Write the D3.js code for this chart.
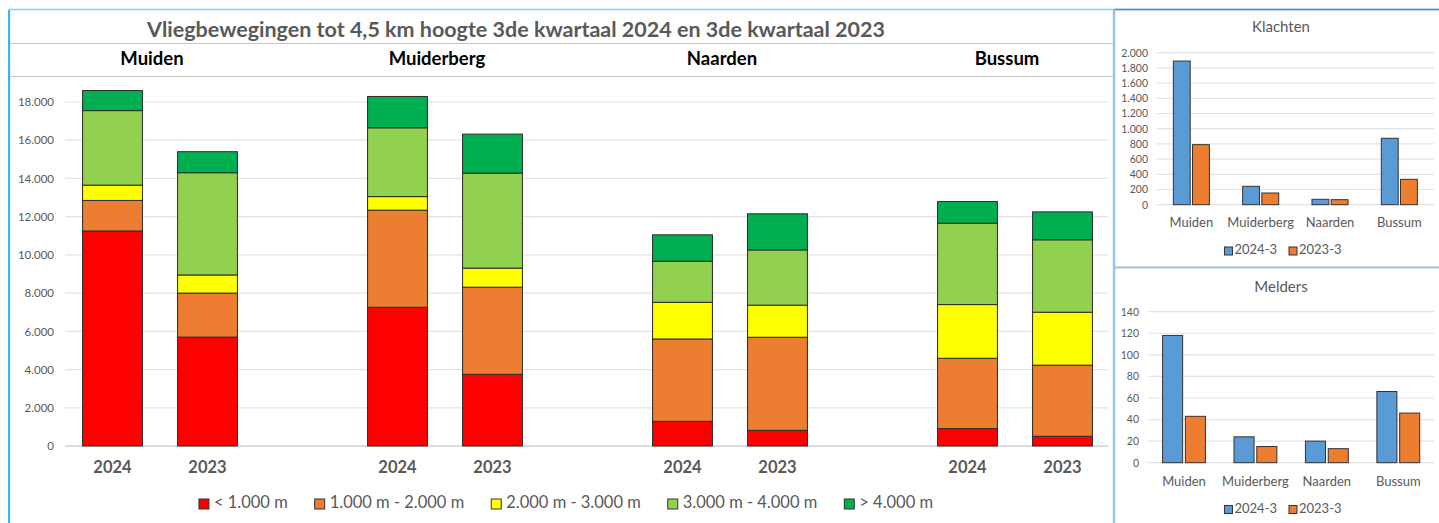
<!DOCTYPE html>
<html>
<head>
<meta charset="utf-8">
<script src="https://cdn.jsdelivr.net/npm/d3@7"></script>
<style>
  body { margin: 0; background: #fff; }
  text { font-family: Lato, "Open Sans", sans-serif; }
</style>
</head>
<body>
<div id="chart"></div>
<script>
// places and years
var places = ["Muiden", "Muiderberg", "Naarden", "Bussum"]
var years = ["2024", "2023"]

// flights per height band, order: Muiden 2024, Muiden 2023, Muiderberg 2024, ...
var heightBands = ["< 1.000 m", "1.000 m - 2.000 m", "2.000 m - 3.000 m", "3.000 m - 4.000 m", "> 4.000 m"]
var below1000 = [11250, 5700, 7260, 3750, 1290, 820, 910, 510]
var from1000to2000 = [1600, 2300, 5080, 4560, 4310, 4870, 3680, 3720]
var from2000to3000 = [800, 950, 710, 1000, 1920, 1680, 2810, 2770]
var from3000to4000 = [3900, 5350, 3600, 4970, 2150, 2890, 4260, 3790]
var above4000 = [1050, 1100, 1640, 2040, 1380, 1890, 1130, 1460]
var bandColors = ["#FF0000", "#ED7D31", "#FFFF00", "#92D050", "#00B050"]
var mainTicks = [0, 2000, 4000, 6000, 8000, 10000, 12000, 14000, 16000, 18000]

// complaints and reporters
var smallSeries = ["2024-3", "2023-3"]
var klachten2024 = [1890, 242, 71, 874]
var klachten2023 = [790, 154, 66, 334]
var klachtenTicks = [0, 200, 400, 600, 800, 1000, 1200, 1400, 1600, 1800, 2000]
var melders2024 = [118, 24, 20, 66]
var melders2023 = [43, 15, 13, 46]
var meldersTicks = [0, 20, 40, 60, 80, 100, 120, 140]
var smallColors = ["#5B9BD5", "#ED7D31"]

var grey = "#595959"
var fmt = d3.formatLocale({decimal: ",", thousands: ".", grouping: [3], currency: ["", ""]}).format(",d")

var svg = d3.select("#chart").append("svg")
  .attr("width", 1439)
  .attr("height", 523)

// ---------- main stacked chart ----------
svg.append("rect")
  .attr("x", 9.5).attr("y", 9.5).attr("width", 1104).attr("height", 520)
  .attr("fill", "#fff").attr("stroke", "#7FD2F4").attr("stroke-width", 1.5)
svg.append("line").attr("x1", 9).attr("x2", 9).attr("y1", 10).attr("y2", 523)
  .attr("stroke", "#3BB5EC").attr("stroke-width", 2)

svg.append("text")
  .attr("x", 516).attr("y", 31)
  .attr("text-anchor", "middle").attr("dominant-baseline", "middle")
  .style("font-size", "21.5px").style("font-weight", "bold").style("fill", grey)
  .text("Vliegbewegingen tot 4,5 km hoogte 3de kwartaal 2024 en 3de kwartaal 2023")

svg.selectAll("sepline")
  .data([43.5, 76.5])
  .enter()
  .append("line")
    .attr("x1", 10).attr("x2", 1113)
    .attr("y1", function(d){ return d }).attr("y2", function(d){ return d })
    .attr("stroke", "#C8C8C8")

var slots = []
places.forEach(function(p, i){
  years.forEach(function(y){ slots.push(p + "|" + y) })
  if (i < places.length - 1) slots.push(p + "|gap")
})

var x = d3.scaleBand()
  .domain(slots)
  .range([65, 1110])
  .paddingInner(0.37)
  .paddingOuter(0.185)

var y = d3.scaleLinear()
  .domain([0, 18000])
  .range([446, 102])

// gridlines
svg.selectAll("grid")
  .data(mainTicks)
  .enter()
  .append("line")
    .attr("x1", 65).attr("x2", 1108)
    .attr("y1", function(d){ return y(d) }).attr("y2", function(d){ return y(d) })
    .attr("stroke", function(d){ return d == 0 ? "#D0D0D0" : "#E3E3E3" })
    .attr("stroke-width", function(d){ return d == 0 ? 1.5 : 1.2 })

var yAxis = svg.append("g")
  .attr("transform", "translate(57,0)")
  .call(d3.axisLeft(y).tickValues(mainTicks).tickFormat(fmt).tickSize(0).tickPadding(3))
yAxis.select(".domain").remove()
yAxis.selectAll("text")
  .style("font-family", "Lato, sans-serif").style("font-size", "11.5px").style("fill", grey)

var series = [below1000, from1000to2000, from2000to3000, from3000to4000, above4000]
var rows = []
places.forEach(function(p, i){
  years.forEach(function(yr, j){
    var k = i * years.length + j
    rows.push({slot: p + "|" + yr, year: yr, values: series.map(function(s){ return s[k] })})
  })
})

var stacked = d3.stack()
  .keys(d3.range(series.length))
  .value(function(d, key){ return d.values[key] })
  (rows)

svg.selectAll("layers")
  .data(stacked)
  .enter()
  .append("g")
    .attr("fill", function(d){ return bandColors[d.key] })
  .selectAll("rect")
  .data(function(d){ return d })
  .enter()
  .append("rect")
    .attr("x", function(d){ return x(d.data.slot) })
    .attr("width", x.bandwidth())
    .attr("y", function(d){ return y(d[1]) })
    .attr("height", function(d){ return y(d[0]) - y(d[1]) })
    .attr("stroke", "#2b2b2b")
    .attr("stroke-width", 1)

// year labels under bars
svg.selectAll("yearlabels")
  .data(rows)
  .enter()
  .append("text")
    .attr("x", function(d){ return x(d.slot) + x.bandwidth() / 2 })
    .attr("y", 469)
    .attr("text-anchor", "middle").attr("dominant-baseline", "middle")
    .style("font-size", "16.5px").style("font-weight", "bold").style("fill", grey)
    .text(function(d){ return d.year })

// place headers
svg.selectAll("placelabels")
  .data(places)
  .enter()
  .append("text")
    .attr("x", function(d){
      var a = x(d + "|" + years[0]), b = x(d + "|" + years[1])
      return (a + b + x.bandwidth()) / 2 - 8
    })
    .attr("y", 60)
    .attr("text-anchor", "middle").attr("dominant-baseline", "middle")
    .style("font-size", "18.5px").style("font-weight", "bold").style("fill", "#000")
    .text(function(d){ return d })

// legend, laid out from text widths and centred on the chart
function legend(parent, labels, colors, cx, cy, fontSize, box, gap, spacing){
  var g = parent.append("g")
  var items = g.selectAll("item")
    .data(labels)
    .enter()
    .append("g")
  items.append("rect")
    .attr("width", box).attr("height", box)
    .attr("y", cy - box / 2)
    .attr("fill", function(d, i){ return colors[i] })
    .attr("stroke", "#333").attr("stroke-width", 1)
  items.append("text")
    .attr("x", box + gap)
    .attr("y", cy)
    .attr("dominant-baseline", "middle")
    .style("font-size", fontSize + "px").style("fill", grey)
    .text(function(d){ return d })
  var widths = []
  items.each(function(){ widths.push(box + gap + d3.select(this).select("text").node().getComputedTextLength()) })
  var total = d3.sum(widths) + spacing * (widths.length - 1)
  var pos = cx - total / 2
  items.each(function(d, i){
    d3.select(this).attr("transform", "translate(" + pos + ",0)")
    pos += widths[i] + spacing
  })
}

legend(svg, heightBands, bandColors, 566, 504, 16.5, 10, 5, 27)

// ---------- small grouped charts ----------
function smallChart(opts){
  svg.append("rect")
    .attr("x", 1114.5).attr("y", opts.top + 0.5).attr("width", 333).attr("height", opts.height)
    .attr("fill", "#fff").attr("stroke", "#9CC2E5").attr("stroke-width", 1.5)
  svg.append("line")
    .attr("x1", 1114.5).attr("x2", 1439).attr("y1", opts.top + 0.5).attr("y2", opts.top + 0.5)
    .attr("stroke", opts.topColor).attr("stroke-width", 1.5)

  svg.append("text")
    .attr("x", 1281).attr("y", opts.titleY)
    .attr("text-anchor", "middle").attr("dominant-baseline", "middle")
    .style("font-size", "15px").style("fill", grey)
    .text(opts.title)

  var sy = d3.scaleLinear().domain([0, d3.max(opts.ticks)]).range(opts.yRange)
  var sx = d3.scaleBand().domain(places).range(opts.xRange)
  var sx1 = d3.scaleBand().domain(smallSeries)
    .range([sx.bandwidth() * opts.inner, sx.bandwidth() * (1 - opts.inner)])
    .paddingInner(0.12)

  svg.append("g").selectAll("line")
    .data(opts.ticks)
    .enter()
    .append("line")
      .attr("x1", opts.xRange[0]).attr("x2", opts.xRange[1])
      .attr("y1", function(d){ return sy(d) }).attr("y2", function(d){ return sy(d) })
      .attr("stroke", "#E3E3E3").attr("stroke-width", 1.2)

  var ax = svg.append("g")
    .attr("transform", "translate(" + opts.axisX + ",0)")
    .call(d3.axisLeft(sy).tickValues(opts.ticks).tickFormat(fmt).tickSize(0).tickPadding(0))
  ax.select(".domain").remove()
  ax.selectAll("text")
    .style("font-family", "Lato, sans-serif").style("font-size", "10.5px").style("fill", grey)

  var vals = [opts.a, opts.b]
  svg.append("g").selectAll("g")
    .data(places)
    .enter()
    .append("g")
      .attr("transform", function(d){ return "translate(" + sx(d) + ",0)" })
    .selectAll("rect")
    .data(function(d, i){ return smallSeries.map(function(s, j){ return {s: s, j: j, v: vals[j][i]} }) })
    .enter()
    .append("rect")
      .attr("x", function(d){ return sx1(d.s) })
      .attr("width", sx1.bandwidth())
      .attr("y", function(d){ return sy(d.v) })
      .attr("height", function(d){ return sy(0) - sy(d.v) })
      .attr("fill", function(d){ return smallColors[d.j] })
      .attr("stroke", "#333").attr("stroke-width", 1)

  svg.append("g").selectAll("text")
    .data(places)
    .enter()
    .append("text")
      .attr("x", function(d){ return sx(d) + sx.bandwidth() / 2 })
      .attr("y", opts.labelY)
      .attr("text-anchor", "middle").attr("dominant-baseline", "middle")
      .style("font-size", "13px").style("fill", grey)
      .text(function(d){ return d })

  legend(svg, smallSeries, smallColors, 1283, opts.legendY, 13, 8, 2, 12)
}

smallChart({title: "Klachten", top: 9, height: 258, topColor: "#4F8BC6", titleY: 28,
  ticks: klachtenTicks, yRange: [204.7, 52.7], xRange: [1156.7, 1434], axisX: 1148,
  inner: 0.24, a: klachten2024, b: klachten2023, labelY: 223.5, legendY: 251})

smallChart({title: "Melders", top: 267, height: 270, topColor: "#9CC2E5", titleY: 288,
  ticks: meldersTicks, yRange: [462.7, 311.7], xRange: [1148.3, 1434], axisX: 1139,
  inner: 0.2, a: melders2024, b: melders2023, labelY: 482.5, legendY: 509.5})
</script>
</body>
</html>
